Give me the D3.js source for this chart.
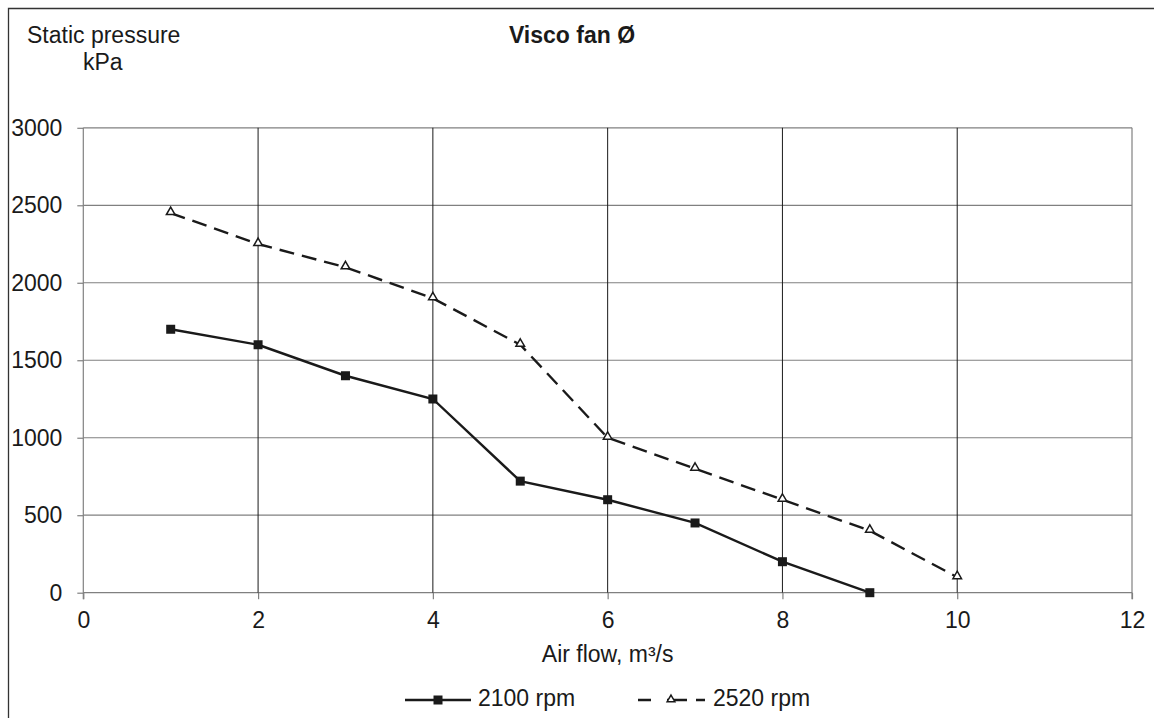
<!DOCTYPE html>
<html><head><meta charset="utf-8">
<script src="https://cdn.jsdelivr.net/npm/d3@7"></script>
<style>body{margin:0;background:#fff}svg{display:block;font-family:"Liberation Sans",Arial,sans-serif}</style>
</head><body><svg id="c" width="1154" height="718"></svg>
<script>
const airflow2100 = [1,2,3,4,5,6,7,8,9];
const pressure2100 = [1700,1600,1400,1250,720,600,450,200,0];
const airflow2520 = [1,2,3,4,5,6,7,8,9,10];
const pressure2520 = [2450,2250,2100,1900,1600,1000,800,600,400,100];
const xTicks = [0,2,4,6,8,10,12];
const yTicks = [0,500,1000,1500,2000,2500,3000];
const seriesNames = ["2100 rpm","2520 rpm"];

const FS = 23;
const svg = d3.select("#c");
const x = d3.scaleLinear().domain([0,12]).range([83.3,1132]);
const y = d3.scaleLinear().domain([0,3000]).range([592.7,127.8]);

// outer frame
svg.append("path").attr("d","M8.5,718 V8.5 H1154").attr("fill","none").attr("stroke","#333").attr("stroke-width",1.3);

// horizontal grid
svg.append("g").selectAll("line").data(yTicks).join("line")
  .attr("x1",x(0)).attr("x2",x(12)).attr("y1",d=>y(d)).attr("y2",d=>y(d))
  .attr("stroke","#808080").attr("stroke-width",1.2);
// vertical grid
svg.append("g").selectAll("line").data(xTicks.filter(d=>d>0&&d<12)).join("line")
  .attr("x1",d=>x(d)).attr("x2",d=>x(d)).attr("y1",y(3000)).attr("y2",y(0))
  .attr("stroke","#1a1a1a").attr("stroke-width",1);
// right border
svg.append("line").attr("x1",x(12)).attr("x2",x(12)).attr("y1",y(3000)).attr("y2",y(0)+6.5)
  .attr("stroke","#808080").attr("stroke-width",1.2);

// axes
const xAxis = d3.axisBottom(x).tickValues(xTicks).tickSize(6.5).tickPadding(12).tickFormat(d3.format("d"));
const gx = svg.append("g").attr("transform",`translate(0,${y(0)})`).call(xAxis);
gx.attr("font-size",FS).attr("font-family",null);
gx.select(".domain").remove();
gx.selectAll(".tick line").attr("stroke","#808080").attr("stroke-width",1.2);
gx.selectAll("text").attr("fill","#1a1a1a");

const yAxis = d3.axisLeft(y).tickValues(yTicks).tickSize(6).tickPadding(15).tickFormat(d3.format("d"));
const gy = svg.append("g").attr("transform",`translate(${x(0)},0)`).call(yAxis);
gy.attr("font-size",FS).attr("font-family",null);
gy.select(".domain").attr("d",`M0,${y(3000)}V${y(0)+6.5}`).attr("stroke","#808080").attr("stroke-width",1.2);
gy.selectAll(".tick line").attr("stroke","#808080").attr("stroke-width",1.2);
gy.selectAll("text").attr("fill","#1a1a1a");

// lines
const line = d3.line().x(d=>x(d[0])).y(d=>y(d[1]));
const d2100 = airflow2100.map((v,i)=>[v,pressure2100[i]]);
const d2520 = airflow2520.map((v,i)=>[v,pressure2520[i]]);
svg.append("path").datum(d2520).attr("d",line).attr("fill","none").attr("stroke","#1a1a1a")
  .attr("stroke-width",2.4).attr("stroke-dasharray","15,8");
svg.append("path").datum(d2100).attr("d",line).attr("fill","none").attr("stroke","#1a1a1a").attr("stroke-width",2.4);

svg.append("g").selectAll("rect").data(d2100).join("rect")
  .attr("x",d=>x(d[0])-4.5).attr("y",d=>y(d[1])-4.5).attr("width",9).attr("height",9).attr("fill","#1a1a1a");
const tri = d3.symbol().type(d3.symbolTriangle).size(32);
svg.append("g").selectAll("path").data(d2520).join("path")
  .attr("d",tri).attr("transform",d=>`translate(${x(d[0])},${y(d[1])-1})`)
  .attr("fill","#fff").attr("stroke","#1a1a1a").attr("stroke-width",1.5);

// texts
svg.append("text").attr("x",572).attr("y",43).attr("text-anchor","middle").attr("font-size",23)
  .attr("font-weight","bold").attr("fill","#1a1a1a").text("Visco fan Ø");
svg.append("text").attr("x",27).attr("y",43).attr("font-size",FS).attr("fill","#1a1a1a").text("Static pressure");
svg.append("text").attr("x",83).attr("y",70).attr("font-size",FS).attr("fill","#1a1a1a").text("kPa");
svg.append("text").attr("x",x(6)).attr("y",662).attr("text-anchor","middle").attr("font-size",FS).attr("fill","#1a1a1a").text("Air flow, m³/s");

// legend
const ly = 700;
const lg = svg.append("g");
lg.append("line").attr("x1",405).attr("x2",471).attr("y1",ly).attr("y2",ly).attr("stroke","#1a1a1a").attr("stroke-width",2.4);
lg.append("rect").attr("x",438-4.5).attr("y",ly-4.5).attr("width",9).attr("height",9).attr("fill","#1a1a1a");
lg.append("text").attr("x",478).attr("y",ly+6).attr("font-size",FS).attr("fill","#1a1a1a").text(seriesNames[0]);
lg.append("line").attr("x1",638).attr("x2",706).attr("y1",ly).attr("y2",ly).attr("stroke","#1a1a1a").attr("stroke-width",2.4).attr("stroke-dasharray","13,16,20,9,9");
lg.append("path").attr("d",d3.symbol().type(d3.symbolTriangle).size(26)).attr("transform",`translate(671,${ly-0.5})`).attr("fill","#fff").attr("stroke","#1a1a1a").attr("stroke-width",1.5);
lg.append("text").attr("x",713).attr("y",ly+6).attr("font-size",FS).attr("fill","#1a1a1a").text(seriesNames[1]);
</script></body></html>
